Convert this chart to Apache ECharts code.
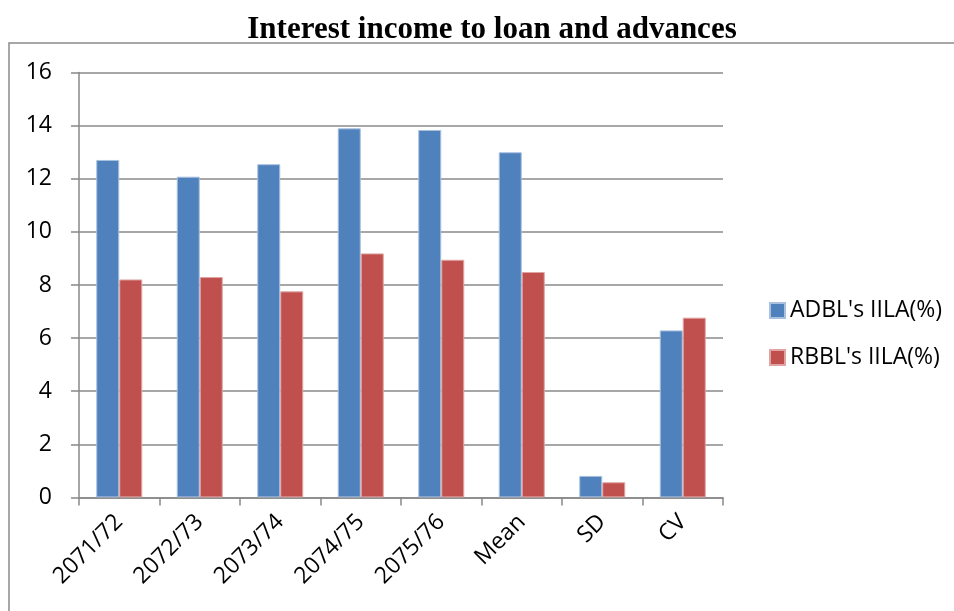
<!DOCTYPE html>
<html>
<head>
<meta charset="utf-8">
<script src="https://cdn.jsdelivr.net/npm/echarts@6/dist/echarts.min.js"></script>
<style>
html,body{margin:0;padding:0;background:#fff;}
#chart{width:954px;height:611px;}
</style>
</head>
<body>
<div id="chart"></div>
<script>
const categories = ['2071/72','2072/73','2073/74','2074/75','2075/76','Mean','SD','CV'];
const adbl = [12.71, 12.08, 12.55, 13.90, 13.84, 13.00, 0.81, 6.29];
const rbbl = [8.21, 8.30, 7.76, 9.19, 8.95, 8.49, 0.57, 6.77];
const seriesNames = ["ADBL's IILA(%)", "RBBL's IILA(%)"];
const yTicks = {min: 0, max: 16, interval: 2};

const chart = echarts.init(document.getElementById('chart'), null, {renderer: 'canvas'});
const axisFont = {fontFamily: 'Open Sans', fontSize: 23, color: '#000'};
chart.setOption({
  animation: false,
  backgroundColor: '#fff',
  title: {
    text: 'Interest income to loan and advances',
    left: 487, top: 9, textAlign: 'center',
    textStyle: {fontFamily: 'Liberation Serif', fontWeight: 'bold', fontSize: 31, color: '#000'}
  },
  graphic: [{
    type: 'rect', shape: {x: 9, y: 43, width: 960, height: 600},
    style: {fill: 'none', stroke: '#8a8a8a', lineWidth: 1.5}, silent: true, z: -1
  }],
  legend: {
    orient: 'vertical', left: 764, top: 294, itemWidth: 15, itemHeight: 15, itemGap: 24,
    icon: 'rect',
    textStyle: {fontFamily: 'Open Sans', fontSize: 23, color: '#000'},
    data: seriesNames
  },
  grid: {left: 79, right: 231, top: 72.6, bottom: 113.6, containLabel: false},
  xAxis: {
    type: 'category', data: categories,
    axisLine: {lineStyle: {color: '#888', width: 1.5}},
    axisTick: {show: true, length: 8, lineStyle: {color: '#888', width: 1.5}},
    axisLabel: Object.assign({rotate: 45, margin: 21, interval: 0}, axisFont)
  },
  yAxis: {
    type: 'value', min: yTicks.min, max: yTicks.max, interval: yTicks.interval,
    axisLine: {show: true, lineStyle: {color: '#888', width: 1.5}},
    axisTick: {show: true, length: 8, lineStyle: {color: '#888', width: 1.5}},
    splitLine: {lineStyle: {color: '#8a8a8a', width: 1.5}},
    axisLabel: Object.assign({margin: 27}, axisFont)
  },
  series: [
    {name: seriesNames[0], type: 'bar', data: adbl, barWidth: 23, barGap: '0%',
     itemStyle: {color: '#4F81BD', borderColor: '#a9c0de', borderWidth: 1}},
    {name: seriesNames[1], type: 'bar', data: rbbl, barWidth: 23, barGap: '0%',
     itemStyle: {color: '#C0504D', borderColor: '#e0a5a3', borderWidth: 1}}
  ]
});
</script>
</body>
</html>
